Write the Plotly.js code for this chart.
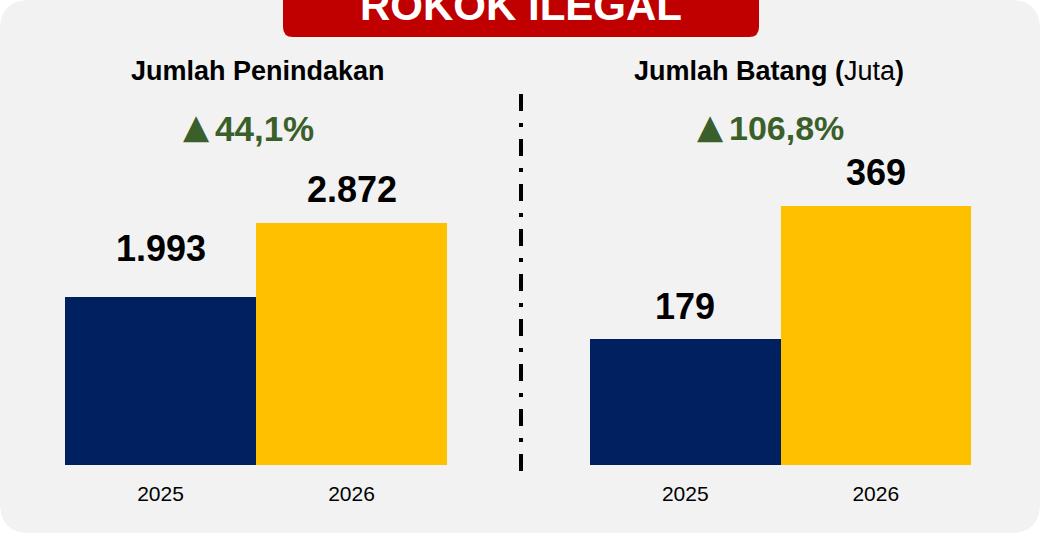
<!DOCTYPE html>
<html><head><meta charset="utf-8">
<script src="https://cdn.plot.ly/plotly-3.0.1.min.js"></script>
<style>html,body{margin:0;padding:0;background:#fff}#chart{width:1040px;height:534px}</style>
</head><body><div id="chart"></div>
<script>
const years = ['2025', '2026'];
const penindakan = [1993, 2872];
const penindakanLabels = ['1.993', '2.872'];
const batang = [179, 369];
const batangLabels = ['179', '369'];
const growthPenindakan = '44,1%';
const growthBatang = '106,8%';
const banner = 'ROKOK ILEGAL';
const titleLeft = '<b>Jumlah Penindakan</b>';
const titleRight = '<b>Jumlah Batang (</b>Juta<b>)</b>';

const FONT = '"Liberation Sans", Arial, sans-serif';
const W = 1040, H = 534;
const px = v => v / W, py = v => 1 - v / H;
const barColors = ['#002060', '#FFC000'];
const green = '#3A5F2A';

function roundRect(x0, y0, x1, y1, r) {
  const rx = r / W, ry = r / H;
  const X0 = px(x0), X1 = px(x1), Y0 = py(y0), Y1 = py(y1);
  return `M ${X0 + rx},${Y0} L ${X1 - rx},${Y0} Q ${X1},${Y0} ${X1},${Y0 - ry} L ${X1},${Y1 + ry} Q ${X1},${Y1} ${X1 - rx},${Y1} L ${X0 + rx},${Y1} Q ${X0},${Y1} ${X0},${Y1 + ry} L ${X0},${Y0 - ry} Q ${X0},${Y0} ${X0 + rx},${Y0} Z`;
}
function bannerPath(x0, y0, x1, y1, r) {
  const rx = r / W, ry = r / H;
  const X0 = px(x0), X1 = px(x1), Y0 = py(y0), Y1 = py(y1);
  return `M ${X0},${Y0} L ${X1},${Y0} L ${X1},${Y1 + ry} Q ${X1},${Y1} ${X1 - rx},${Y1} L ${X0 + rx},${Y1} Q ${X0},${Y1} ${X0},${Y1 + ry} Z`;
}

const traces = [
  {type: 'bar', x: years, y: penindakan, xaxis: 'x', yaxis: 'y', marker: {color: barColors}, hoverinfo: 'none'},
  {type: 'bar', x: years, y: batang, xaxis: 'x2', yaxis: 'y2', marker: {color: barColors}, hoverinfo: 'none'}
];

const valueShiftLeft = [49, 34];
const valueShiftRight = [33, 33];
const annotations = [];
years.forEach((yr, i) => {
  annotations.push({xref: 'x', yref: 'y', x: i, y: penindakan[i], text: '<b>' + penindakanLabels[i] + '</b>',
    showarrow: false, xanchor: 'center', yanchor: 'middle', yshift: valueShiftLeft[i], font: {family: FONT, size: 36, color: '#000'}});
  annotations.push({xref: 'x2', yref: 'y2', x: i, y: batang[i], text: '<b>' + batangLabels[i] + '</b>',
    showarrow: false, xanchor: 'center', yanchor: 'middle', yshift: valueShiftRight[i], font: {family: FONT, size: 36, color: '#000'}});
});
annotations.push(
  {xref: 'paper', yref: 'paper', x: px(258), y: py(71), text: titleLeft, showarrow: false, xanchor: 'center', yanchor: 'middle',
   font: {family: FONT, size: 27, color: '#000'}},
  {xref: 'paper', yref: 'paper', x: px(769), y: py(71), text: titleRight, showarrow: false, xanchor: 'center', yanchor: 'middle',
   font: {family: FONT, size: 27, color: '#000'}},
  {xref: 'paper', yref: 'paper', x: px(196), y: py(126), text: '▲', showarrow: false, xanchor: 'center', yanchor: 'middle',
   font: {family: '"DejaVu Sans", sans-serif', size: 34, color: green}},
  {xref: 'paper', yref: 'paper', x: px(213), y: py(128), text: '<b>' + growthPenindakan + '</b>', showarrow: false, xanchor: 'left', yanchor: 'middle',
   font: {family: FONT, size: 35, color: green}},
  {xref: 'paper', yref: 'paper', x: px(710), y: py(126), text: '▲', showarrow: false, xanchor: 'center', yanchor: 'middle',
   font: {family: '"DejaVu Sans", sans-serif', size: 34, color: green}},
  {xref: 'paper', yref: 'paper', x: px(727), y: py(128), text: '<b>' + growthBatang + '</b>', showarrow: false, xanchor: 'left', yanchor: 'middle',
   font: {family: FONT, size: 34, color: green}},
  {xref: 'paper', yref: 'paper', x: px(521), y: py(5), text: '<b>' + banner + '</b>', showarrow: false, xanchor: 'center', yanchor: 'middle',
   font: {family: FONT, size: 42, color: '#fff'}}
);

function axisX(domain, anchor) {
  return {type: 'category', domain: domain, anchor: anchor, range: [-0.5, 1.5], autorange: false,
          showgrid: false, zeroline: false, showline: false, ticks: '', ticklabelstandoff: 14,
          tickfont: {family: FONT, size: 21, color: '#000'}, fixedrange: true};
}
const layout = {
  width: W, height: H,
  margin: {l: 0, r: 0, t: 0, b: 0},
  paper_bgcolor: '#ffffff', plot_bgcolor: 'rgba(0,0,0,0)',
  showlegend: false, bargap: 0,
  font: {family: FONT, color: '#000'},
  xaxis: axisX([px(65), px(447)], 'y'),
  yaxis: {domain: [py(465), py(150)], range: [0, 3745], autorange: false, visible: false, fixedrange: true},
  xaxis2: axisX([px(590), px(971)], 'y2'),
  yaxis2: {domain: [py(465), py(150)], range: [0, 448], autorange: false, visible: false, fixedrange: true},
  shapes: [
    {type: 'path', xref: 'paper', yref: 'paper', path: roundRect(0, 0, 1040, 533, 30), fillcolor: '#F2F2F2', line: {width: 0}, layer: 'below'},
    {type: 'path', xref: 'paper', yref: 'paper', path: bannerPath(283, -5, 759, 37, 10), fillcolor: '#C00000', line: {width: 0}, layer: 'below'},
    {type: 'line', xref: 'paper', yref: 'paper', x0: px(521), x1: px(521), y0: py(94), y1: py(478),
     line: {color: '#000', width: 4, dash: '17px,12px,4px,12px'}}
  ],
  annotations: annotations
};
Plotly.newPlot('chart', traces, layout, {displayModeBar: false, staticPlot: true});
</script></body></html>
